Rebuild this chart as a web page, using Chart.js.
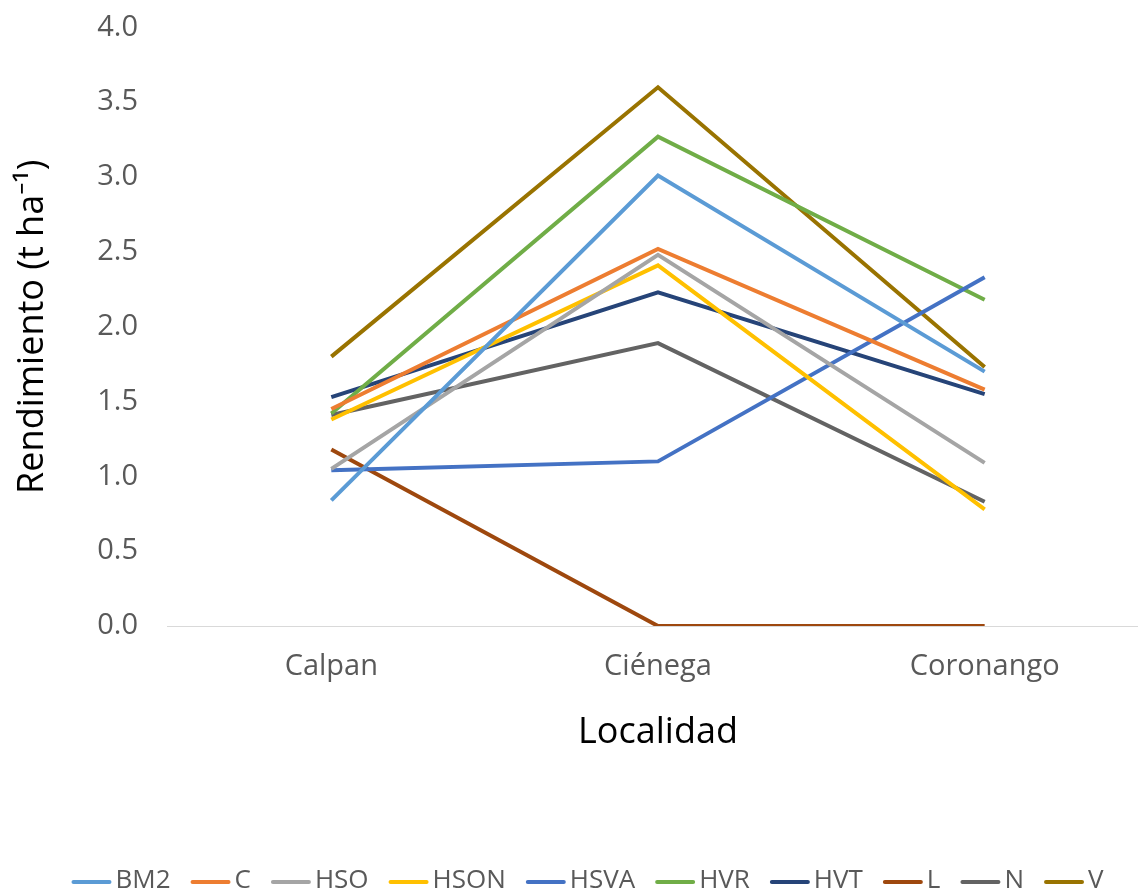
<!DOCTYPE html>
<html>
<head>
<meta charset="utf-8">
<script src="https://cdn.jsdelivr.net/npm/chart.js@4/dist/chart.umd.min.js"></script>
<style>
  html, body { margin: 0; padding: 0; background: #fff; overflow: hidden; }
  #wrap { width: 1175px; height: 894px; position: relative; overflow: hidden; }
  #c { position: absolute; left: 0; top: -20px; }
</style>
</head>
<body>
<div id="wrap"><canvas id="c" width="1175" height="914"></canvas></div>
<script>
// Localidades (eje X)
const localidades = ['Calpan', 'Ciénega', 'Coronango'];

// Rendimiento por tratamiento (t ha-1) en cada localidad
const BM2  = [0.84, 3.01, 1.70];
const C    = [1.45, 2.52, 1.58];
const HSO  = [1.05, 2.48, 1.09];
const HSON = [1.38, 2.41, 0.78];
const HSVA = [1.04, 1.10, 2.33];
const HVR  = [1.42, 3.27, 2.18];
const HVT  = [1.53, 2.23, 1.55];
const L    = [1.18, 0.00, 0.00];
const N    = [1.41, 1.89, 0.83];
const V    = [1.80, 3.60, 1.73];

const tratamientos = ['BM2', 'C', 'HSO', 'HSON', 'HSVA', 'HVR', 'HVT', 'L', 'N', 'V'];
const series = [BM2, C, HSO, HSON, HSVA, HVR, HVT, L, N, V];
const colores = ['#5B9BD5', '#ED7D31', '#A5A5A5', '#FFC000', '#4472C4',
                 '#70AD47', '#264478', '#9E480E', '#636363', '#997300'];

const FONT = '"Open Sans", "Noto Sans", "DejaVu Sans", sans-serif';

// Leyenda inferior compacta: trazo de color seguido del nombre de la serie
const leyendaInferior = {
  id: 'leyendaInferior',
  afterDraw(chart) {
    const ctx = chart.ctx;
    const size = 26, trazo = 40, hueco = 4, sep = 20;
    ctx.save();
    ctx.font = size + 'px ' + FONT;
    ctx.textBaseline = 'middle';
    ctx.textAlign = 'left';
    const items = chart.data.datasets.map(ds => ({
      texto: ds.label,
      color: ds.borderColor,
      ancho: ctx.measureText(ds.label).width
    }));
    const total = items.reduce((s, it) => s + trazo + hueco + it.ancho, 0) + sep * (items.length - 1);
    let x = (chart.width - total) / 2;
    const y = chart.height - 13;
    items.forEach(it => {
      ctx.strokeStyle = it.color;
      ctx.lineWidth = 4;
      ctx.lineCap = 'round';
      ctx.beginPath();
      ctx.moveTo(x + 2, y + 1);
      ctx.lineTo(x + trazo - 2, y + 1);
      ctx.stroke();
      x += trazo + hueco;
      ctx.fillStyle = '#595959';
      ctx.fillText(it.texto, x, y);
      x += it.ancho + sep;
    });
    ctx.restore();
  }
};

new Chart(document.getElementById('c'), {
  type: 'line',
  data: {
    labels: localidades,
    datasets: tratamientos.map((t, i) => ({
      label: t,
      data: series[i],
      borderColor: colores[i],
      backgroundColor: colores[i],
      borderWidth: 4,
      pointRadius: 0,
      tension: 0,
      fill: false
    }))
  },
  plugins: [leyendaInferior],
  options: {
    responsive: false,
    animation: false,
    layout: { padding: { top: 0, right: 27, left: 7, bottom: 140 } },
    plugins: {
      legend: { display: false },
      tooltip: { enabled: false }
    },
    scales: {
      x: {
        offset: true,
        grid: { display: false, drawTicks: false },
        border: { display: true, color: '#D9D9D9', width: 1 },
        ticks: { font: { family: FONT, size: 29 }, color: '#595959', padding: 23 },
        title: {
          display: true,
          text: 'Localidad',
          font: { family: FONT, size: 36 },
          color: '#000',
          padding: { top: 4, bottom: 0 }
        }
      },
      y: {
        min: 0,
        max: 4,
        grid: { display: false, drawTicks: false },
        border: { display: false },
        ticks: {
          stepSize: 0.5,
          font: { family: FONT, size: 29 },
          color: '#595959',
          padding: 30,
          callback: v => v.toFixed(1)
        },
        title: {
          display: true,
          text: 'Rendimiento (t ha⁻¹)',
          font: { family: FONT, size: 36 },
          color: '#000',
          padding: { top: 4, bottom: 13 }
        }
      }
    }
  }
});
</script>
</body>
</html>
